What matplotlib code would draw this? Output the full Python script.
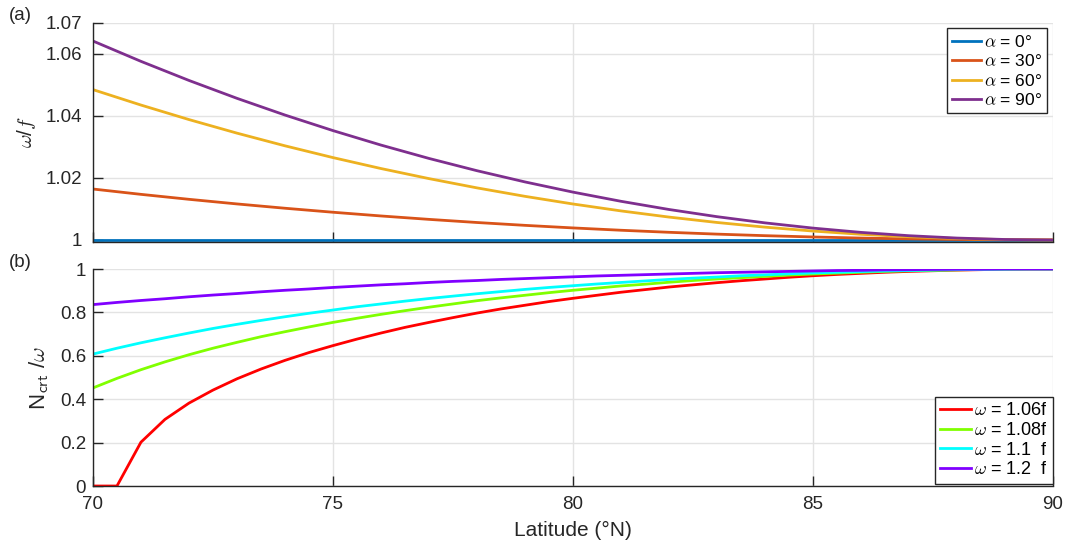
import matplotlib
matplotlib.use("Agg")
import matplotlib.pyplot as plt

# ---------------------------------------------------------
# data
# ---------------------------------------------------------

lat_a = [70, 71, 72, 73, 74, 75, 76, 77, 78, 79, 80,
         81, 82, 83, 84, 85, 86, 87, 88, 89, 90]

wf_alpha0 = [1.0] * 21
wf_alpha30 = [1.01643, 1.01471, 1.01311, 1.01162, 1.01023, 1.00894, 1.00774,
              1.00664, 1.00563, 1.00471, 1.00388, 1.00313, 1.00247, 1.00188,
              1.00138, 1.00096, 1.00061, 1.00034, 1.00015, 1.00004, 1.0]
wf_alpha60 = [1.04850, 1.04352, 1.03884, 1.03446, 1.03037, 1.02657, 1.02304,
              1.01979, 1.01680, 1.01407, 1.01160, 1.00937, 1.00738, 1.00564,
              1.00413, 1.00287, 1.00183, 1.00103, 1.00046, 1.00011, 1.0]
wf_alpha90 = [1.06418, 1.05762, 1.05146, 1.04569, 1.04030, 1.03528, 1.03061,
              1.02630, 1.02234, 1.01872, 1.01543, 1.01247, 1.00983, 1.00751,
              1.00551, 1.00382, 1.00244, 1.00137, 1.00061, 1.00015, 1.0]

alpha_labels = [r"$\alpha$ = 0°", r"$\alpha$ = 30°", r"$\alpha$ = 60°", r"$\alpha$ = 90°"]

lat_b = [70.0, 70.5, 71.0, 71.5, 72.0, 72.5, 73.0, 73.5, 74.0, 74.5,
         75.0, 75.5, 76.0, 76.5, 77.0, 77.5, 78.0, 78.5, 79.0, 79.5,
         80.0, 80.5, 81.0, 81.5, 82.0, 82.5, 83.0, 83.5, 84.0, 84.5,
         85.0, 85.5, 86.0, 86.5, 87.0, 87.5, 88.0, 88.5, 89.0, 89.5, 90.0]

ncrt_106 = [0.0, 0.0, 0.202, 0.307, 0.382, 0.442, 0.494, 0.539, 0.579, 0.615,
            0.647, 0.677, 0.705, 0.731, 0.754, 0.776, 0.797, 0.816, 0.833, 0.850,
            0.865, 0.879, 0.893, 0.905, 0.917, 0.927, 0.937, 0.946, 0.954, 0.962,
            0.969, 0.975, 0.980, 0.985, 0.989, 0.992, 0.995, 0.997, 0.999, 1.0, 1.0]
ncrt_108 = [0.452, 0.496, 0.536, 0.572, 0.605, 0.635, 0.662, 0.688, 0.711, 0.733,
            0.754, 0.773, 0.791, 0.808, 0.824, 0.839, 0.854, 0.867, 0.879, 0.891,
            0.902, 0.912, 0.922, 0.930, 0.939, 0.947, 0.954, 0.960, 0.966, 0.972,
            0.977, 0.981, 0.985, 0.989, 0.992, 0.994, 0.996, 0.998, 0.999, 1.0, 1.0]
ncrt_110 = [0.608, 0.635, 0.660, 0.683, 0.705, 0.726, 0.745, 0.763, 0.780, 0.796,
            0.811, 0.826, 0.839, 0.852, 0.864, 0.875, 0.886, 0.896, 0.906, 0.915,
            0.923, 0.931, 0.938, 0.945, 0.952, 0.958, 0.963, 0.969, 0.973, 0.978,
            0.982, 0.985, 0.988, 0.991, 0.993, 0.995, 0.997, 0.998, 0.999, 1.0, 1.0]
ncrt_120 = [0.836, 0.846, 0.855, 0.863, 0.872, 0.880, 0.887, 0.895, 0.902, 0.908,
            0.915, 0.921, 0.927, 0.932, 0.938, 0.943, 0.947, 0.952, 0.956, 0.960,
            0.964, 0.968, 0.971, 0.974, 0.977, 0.980, 0.983, 0.985, 0.987, 0.989,
            0.991, 0.993, 0.994, 0.996, 0.997, 0.998, 0.999, 0.999, 1.0, 1.0, 1.0]

omega_labels = [r"$\omega$ = 1.06f", r"$\omega$ = 1.08f", r"$\omega$ = 1.1  f", r"$\omega$ = 1.2  f"]


# ---------------------------------------------------------
# style
# ---------------------------------------------------------

plt.rcParams["font.family"] = ["Liberation Sans", "DejaVu Sans"]
plt.rcParams["mathtext.fontset"] = "cm"
plt.rcParams["font.size"] = 12

AX_COLOR = "#262626"
GRID_COLOR = "#e3e3e3"


def style_axes(ax, ypad):

    for side in ["top", "right"]:
        ax.spines[side].set_visible(False)

    for side in ["left", "bottom"]:
        ax.spines[side].set_color(AX_COLOR)
        ax.spines[side].set_linewidth(1.0)

    ax.tick_params(direction="in", length=7, width=1.0, color=AX_COLOR,
                   labelcolor=AX_COLOR, labelsize=13.5)
    ax.tick_params(axis="y", pad=ypad)
    ax.tick_params(axis="x", pad=7)
    ax.grid(True, color=GRID_COLOR, linewidth=1.0)
    ax.set_axisbelow(True)


def style_legend(leg):

    frame = leg.get_frame()
    frame.set_edgecolor(AX_COLOR)
    frame.set_linewidth(1.0)
    frame.set_alpha(1.0)


# ---------------------------------------------------------
# figure
# ---------------------------------------------------------

fig = plt.figure(figsize=(10.66, 5.47), dpi=100)

ax_a = fig.add_axes([0.0872, 0.5585, 0.9006, 0.3995])
ax_b = fig.add_axes([0.0872, 0.1115, 0.9006, 0.3967])

# panel (a)
alpha_colors = ["#0072BD", "#D95319", "#EDB120", "#7E2F8E"]
for series, color, label in zip([wf_alpha0, wf_alpha30, wf_alpha60, wf_alpha90],
                                alpha_colors, alpha_labels):
    ax_a.plot(lat_a, series, color=color, linewidth=2, label=label)

ax_a.set_xlim(70, 90)
ax_a.set_ylim(0.9995, 1.07)
ax_a.set_xticks([70, 75, 80, 85, 90])
ax_a.set_xticklabels([])
ax_a.set_yticks([1.0, 1.02, 1.04, 1.06, 1.07])
ax_a.set_yticklabels(["1", "1.02", "1.04", "1.06", "1.07"])
ax_a.set_ylabel(r"$\omega$/$f$", fontsize=15, color=AX_COLOR, labelpad=5)
style_axes(ax_a, ypad=8)

leg_a = ax_a.legend(loc="upper right", bbox_to_anchor=(0.994, 0.975),
                    fancybox=False, fontsize=12.5, handlelength=1.7,
                    handletextpad=0.15, labelspacing=0.2, borderpad=0.3,
                    borderaxespad=0.0)
style_legend(leg_a)

# panel (b)
omega_colors = ["#FF0000", "#80FF00", "#00FFFF", "#8000FF"]
for series, color, label in zip([ncrt_106, ncrt_108, ncrt_110, ncrt_120],
                                omega_colors, omega_labels):
    ax_b.plot(lat_b, series, color=color, linewidth=2, label=label)

ax_b.set_xlim(70, 90)
ax_b.set_ylim(0, 1)
ax_b.set_xticks([70, 75, 80, 85, 90])
ax_b.set_yticks([0, 0.2, 0.4, 0.6, 0.8, 1.0])
ax_b.set_yticklabels(["0", "0.2", "0.4", "0.6", "0.8", "1"])
ax_b.set_xlabel("Latitude (°N)", fontsize=15, color=AX_COLOR, labelpad=6)
ax_b.set_ylabel(r"N$_{\mathsf{crt}}$ /$\omega$", fontsize=16, color=AX_COLOR, labelpad=6)
style_axes(ax_b, ypad=5)

leg_b = ax_b.legend(loc="lower right", bbox_to_anchor=(1.0, 0.01),
                    fancybox=False, fontsize=13, handlelength=1.7,
                    handletextpad=0.15, labelspacing=0.15, borderpad=0.3,
                    borderaxespad=0.0)
style_legend(leg_b)

fig.text(0.008, 0.972, "(a)", fontsize=13.5, color=AX_COLOR, va="center")
fig.text(0.008, 0.521, "(b)", fontsize=13.5, color=AX_COLOR, va="center")

fig.savefig("out.png", dpi=100)
